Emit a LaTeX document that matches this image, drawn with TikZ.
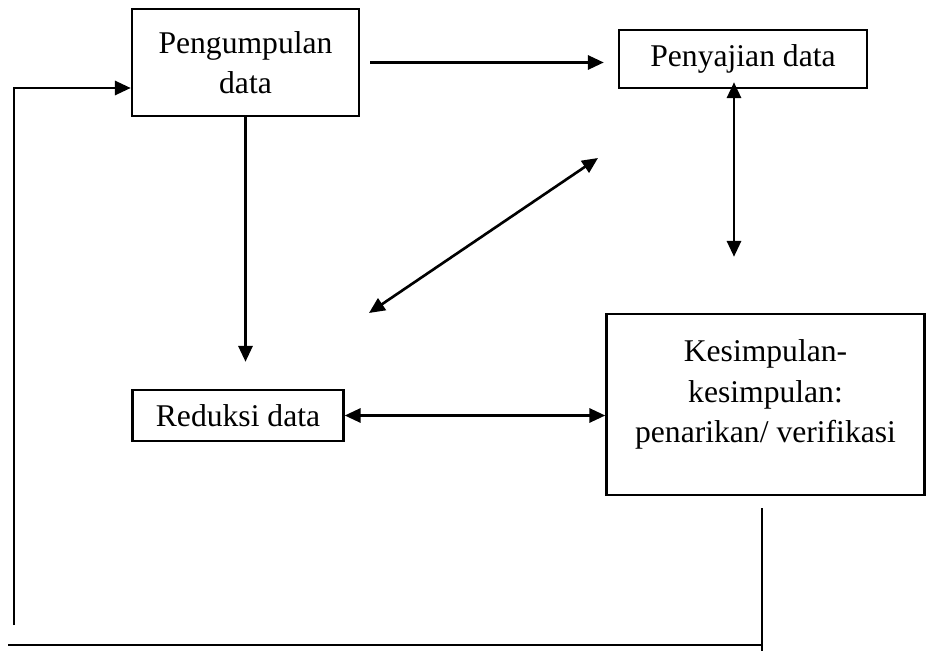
\documentclass[tikz,border=0pt]{standalone}
\usepackage{fontspec}
\setmainfont{Liberation Serif}
\usepackage{tikz}
\usetikzlibrary{arrows.meta,calc}

\begin{document}
\begin{tikzpicture}[
    x=0.02cm, y=-0.02cm,
    box/.style={rectangle, draw=black, line width=1.4pt, align=center, inner sep=2pt, font=\fontsize{18}{23}\selectfont},
    arrow/.style={-{Triangle[length=9pt,width=8pt]}, line width=1.5pt},
    biarrow/.style={{Triangle[length=9pt,width=8pt]}-{Triangle[length=9pt,width=8pt]}, line width=1.5pt},
    fline/.style={line width=1.5pt}
]
\useasboundingbox (0,0) rectangle (927,652);

\node[box, minimum width=227*0.02cm, minimum height=107*0.02cm] (pengumpulan) at (245.5,62.5) {Pengumpulan\\data};
\node[box, minimum width=248*0.02cm, minimum height=58*0.02cm] (penyajian) at (743,59) {Penyajian data};
\node[box, minimum width=211*0.02cm, minimum height=51*0.02cm] (reduksi) at (238,415.5) {Reduksi data};
\node[box, minimum width=318*0.02cm, minimum height=181*0.02cm] (kesimpulan) at (765.5,404.5) {Kesimpulan-\\kesimpulan:\\penarikan/ verifikasi\\[-8pt]\mbox{}};

\coordinate (diagA) at (369,313);
\coordinate (diagB) at (598,158);
\coordinate (fbstart) at (762,508);
\coordinate (fbend) at (762,651);
\coordinate (fbright) at (762,645);
\coordinate (fbleft) at (8,645);
\coordinate (upstart) at (14,625);
\coordinate (upcorner) at (14,88);

\draw[arrow, shorten <=0.2cm, shorten >=0.28cm] (pengumpulan.east) -- (penyajian.west |- pengumpulan.east);
\draw[arrow, shorten >=0.54cm] (pengumpulan.south) -- (pengumpulan.south |- reduksi.north);
\draw[biarrow, shorten >=1.12cm] ([xshift=-0.18cm,yshift=0.14cm]penyajian.south) -- ([xshift=-0.18cm]penyajian.south |- kesimpulan.north);
\draw[biarrow] (diagA) -- (diagB);
\draw[biarrow] (reduksi.east) -- (kesimpulan.west |- reduksi.east);

\draw[fline] (fbstart) -- (fbend);
\draw[fline] (fbright) -- (fbleft);
\draw[arrow] (upstart) -- (upcorner) -- (pengumpulan.west |- upcorner);

\end{tikzpicture}
\end{document}
